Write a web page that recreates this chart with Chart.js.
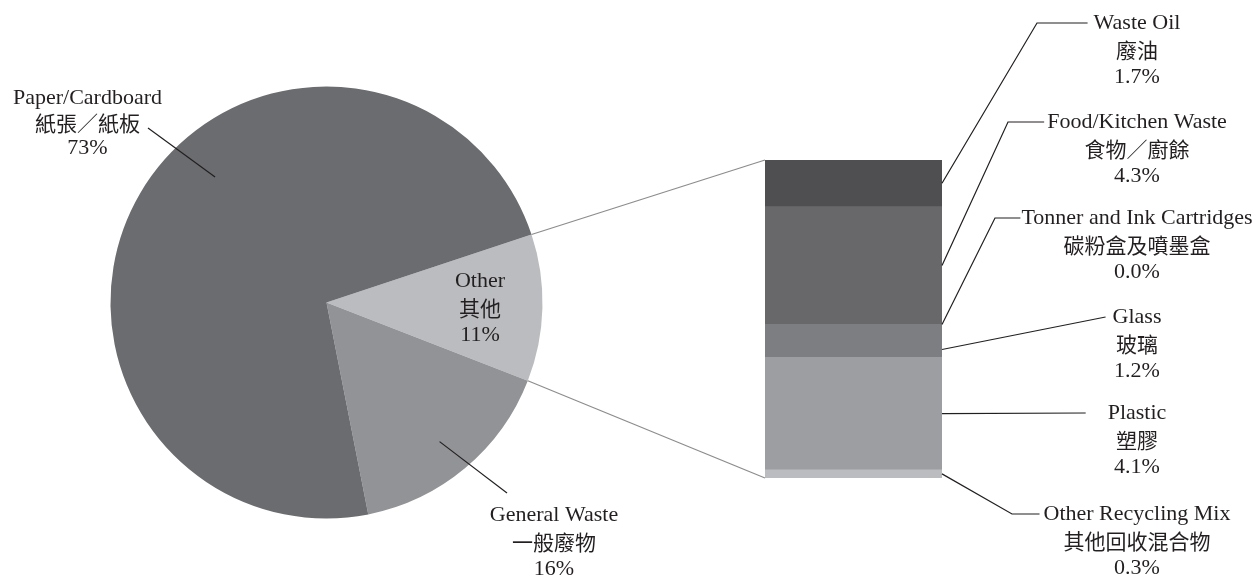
<!DOCTYPE html>
<html>
<head>
<meta charset="utf-8">
<script src="https://cdn.jsdelivr.net/npm/chart.js@4.4.1/dist/chart.umd.min.js"></script>
<style>
  html, body { margin: 0; padding: 0; background: #fff; }
  #wrap { position: relative; width: 1260px; height: 577px; }
  #wrap canvas { position: absolute; left: 0; top: 0; }
</style>
</head>
<body>
<div id="wrap">
  <canvas id="pie" width="1260" height="577"></canvas>
  <canvas id="bar" width="1260" height="577"></canvas>
</div>
<script>
// waste composition, first pie slice is the one broken out into the bar
const pieLabelsEn = ["Other", "General Waste", "Paper/Cardboard"];
const pieLabelsZh = ["其他", "一般廢物", "紙張／紙板"];
const pieValues = [11, 16, 73];

// breakdown of "Other", stacked bottom to top
const otherLabelsEn = ["Other Recycling Mix", "Plastic", "Glass", "Tonner and Ink Cartridges", "Food/Kitchen Waste", "Waste Oil"];
const otherLabelsZh = ["其他回收混合物", "塑膠", "玻璃", "碳粉盒及噴墨盒", "食物／廚餘", "廢油"];
const otherValues = [0.3, 4.1, 1.2, 0.0, 4.3, 1.7];

const pieColors = ["#bbbcbf", "#929396", "#6b6c6f"];
const otherColors = ["#bbbcbf", "#9d9ea1", "#7d7e81", "#737376", "#68686b", "#4f4f52"];

const textColor = "#231f20";
const enFont = "22px 'Liberation Serif', 'Times New Roman', serif";
const zhFont = "21px 'Noto Sans CJK TC', 'Noto Sans CJK SC', sans-serif";

// label placement for the pie (same order as pieValues)
const pieCallouts = [
  { cx: 480, cy: 281, gap: 27 },
  { cx: 554, cy: 515, gap: 27, angle: 50.9, frac: 0.83, lx: 507, ly: 493 },
  { cx: 87.5, cy: 98.5, gap: 25, angle: -131.6, frac: 0.777, lx: 148, ly: 128 },
];

// label placement for the bar segments (same order as otherValues)
const barTextX = 1137;
const barCallouts = [
  { y: 514, elbowX: 1012, pad: 4, at: 0.5 },
  { y: 413, elbowX: null, pad: 22, at: 0.5 },
  { y: 317, elbowX: null, pad: 7, at: 0.76 },
  { y: 218, elbowX: 995, pad: 1, at: 0.5 },
  { y: 122, elbowX: 1008, pad: 3, at: 0.5 },
  { y: 23, elbowX: 1037, pad: 6, at: 0.5 },
];

const otherTotal = otherValues.reduce((a, b) => a + b, 0);

function drawLines(ctx, lines, cx, cy, gap) {
  ctx.fillStyle = textColor;
  ctx.textAlign = "center";
  ctx.textBaseline = "middle";
  lines.forEach((ln, k) => {
    ctx.font = k === 1 ? zhFont : enFont;
    ctx.fillText(ln, cx, cy + k * gap);
  });
}

function strokePath(ctx, pts, color, width) {
  ctx.beginPath();
  ctx.moveTo(pts[0][0], pts[0][1]);
  for (let i = 1; i < pts.length; i++) ctx.lineTo(pts[i][0], pts[i][1]);
  ctx.strokeStyle = color;
  ctx.lineWidth = width;
  ctx.stroke();
}

const pieLabelsPlugin = {
  id: "pieLabels",
  afterDraw(chart) {
    const ctx = chart.ctx;
    const meta = chart.getDatasetMeta(0);
    ctx.save();
    meta.data.forEach((arc, i) => {
      const c = pieCallouts[i];
      const { x, y, outerRadius } = arc.getProps(["x", "y", "outerRadius"], true);
      if (c.angle !== undefined) {
        const a = c.angle * Math.PI / 180;
        const px = x + Math.cos(a) * outerRadius * c.frac;
        const py = y + Math.sin(a) * outerRadius * c.frac;
        strokePath(ctx, [[px, py], [c.lx, c.ly]], textColor, 1.2);
      }
      drawLines(ctx, [pieLabelsEn[i], pieLabelsZh[i], pieValues[i] + "%"], c.cx, c.cy, c.gap);
    });
    ctx.restore();
  }
};

const pieChart = new Chart(document.getElementById("pie"), {
  type: "pie",
  data: {
    labels: pieLabelsEn,
    datasets: [{ data: pieValues, backgroundColor: pieColors, borderWidth: 0 }]
  },
  options: {
    responsive: false,
    animation: false,
    events: [],
    rotation: 71.65,
    layout: { padding: { left: 110.5, top: 86.5, right: 717.5, bottom: 58.5 } },
    plugins: { legend: { display: false }, tooltip: { enabled: false } }
  },
  plugins: [pieLabelsPlugin]
});

const barLabelsPlugin = {
  id: "barLabels",
  afterDraw(chart) {
    const ctx = chart.ctx;
    ctx.save();

    // grey lines joining the "Other" slice to the bar
    const arc = pieChart.getDatasetMeta(0).data[0];
    const p = arc.getProps(["x", "y", "startAngle", "endAngle", "outerRadius"], true);
    const topSeg = chart.getDatasetMeta(otherValues.length - 1).data[0].getProps(["x", "y", "width"], true);
    const botSeg = chart.getDatasetMeta(0).data[0].getProps(["x", "base", "width"], true);
    strokePath(ctx, [
      [p.x + Math.cos(p.startAngle) * p.outerRadius, p.y + Math.sin(p.startAngle) * p.outerRadius],
      [topSeg.x - topSeg.width / 2, topSeg.y]
    ], "#8c8c8e", 1.2);
    strokePath(ctx, [
      [p.x + Math.cos(p.endAngle) * p.outerRadius, p.y + Math.sin(p.endAngle) * p.outerRadius],
      [botSeg.x - botSeg.width / 2, botSeg.base]
    ], "#8c8c8e", 1.2);

    // leader lines and text for each segment
    otherValues.forEach((v, i) => {
      const seg = chart.getDatasetMeta(i).data[0].getProps(["x", "y", "base", "width"], true);
      const c = barCallouts[i];
      const sx = seg.x + seg.width / 2;
      const sy = seg.y + (seg.base - seg.y) * c.at;
      ctx.font = enFont;
      const w = ctx.measureText(otherLabelsEn[i]).width;
      const ex = barTextX - w / 2 - c.pad;
      const pts = [[sx, sy]];
      if (c.elbowX !== null) pts.push([c.elbowX, c.y]);
      pts.push([ex, c.y]);
      strokePath(ctx, pts, textColor, 1.2);
      drawLines(ctx, [otherLabelsEn[i], otherLabelsZh[i], v.toFixed(1) + "%"], barTextX, c.y, 27);
    });
    ctx.restore();
  }
};

new Chart(document.getElementById("bar"), {
  type: "bar",
  data: {
    labels: ["Other"],
    datasets: otherValues.map((v, i) => ({
      label: otherLabelsEn[i],
      data: [v],
      backgroundColor: otherColors[i],
      borderWidth: 0,
      barPercentage: 1,
      categoryPercentage: 1
    }))
  },
  options: {
    responsive: false,
    animation: false,
    events: [],
    layout: { padding: { left: 765, top: 160, right: 318, bottom: 99 } },
    scales: {
      x: { stacked: true, display: false },
      y: { stacked: true, display: false, min: 0, max: otherTotal }
    },
    plugins: { legend: { display: false }, tooltip: { enabled: false } }
  },
  plugins: [barLabelsPlugin]
});
</script>
</body>
</html>
